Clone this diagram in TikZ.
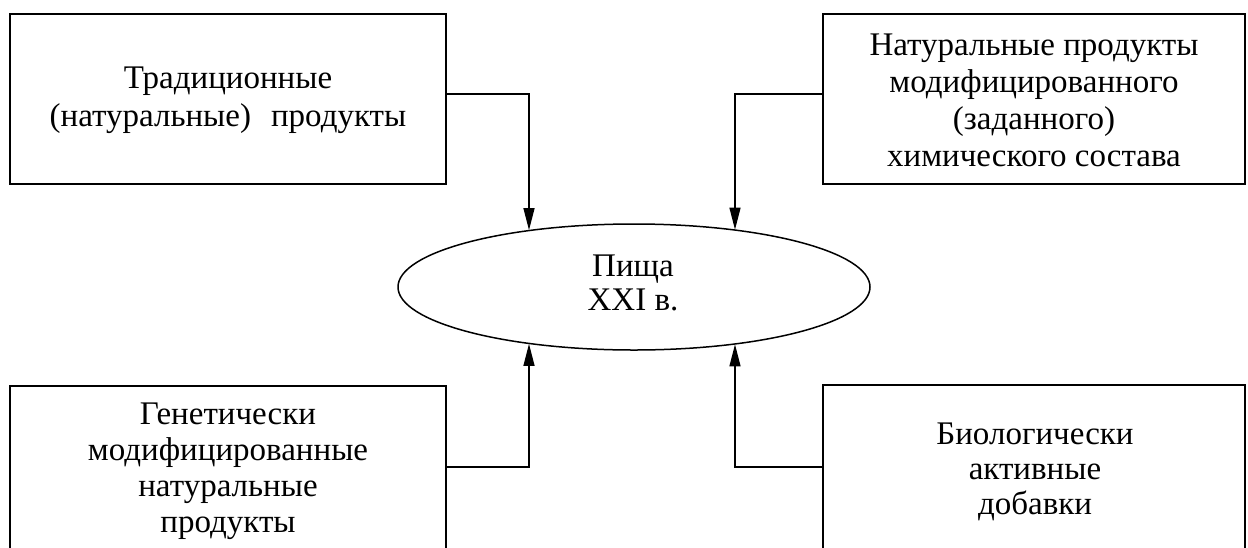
\documentclass[tikz,border=0pt]{standalone}
\usepackage{fontspec}
\setmainfont{Liberation Serif}
\usetikzlibrary{shapes.geometric,arrows.meta}
\tikzset{
  blockbox/.style={draw, line width=1.5pt, minimum height=170pt, inner sep=0pt},
  blocktext/.style={align=center, inner sep=0pt, font=\fontsize{33}{37}\selectfont},
  hub/.style={ellipse, draw, line width=1.5pt, minimum width=472pt, minimum height=126pt, inner sep=0pt},
  feed/.style={line width=1.3pt, -{Triangle[length=22pt,width=11pt]}},
}
\begin{document}
\begin{tikzpicture}[x=1pt,y=-1pt]
\useasboundingbox (0,0) rectangle (1248,547);
\clip (0,0) rectangle (1248,547);

% central ellipse
\node[hub] (ell) at (634,287) {};
\node[blocktext, font=\fontsize{33}{34}\selectfont] (ellt) at (633,283) {Пища\\XXI в.};

% four source blocks
\node[blockbox, minimum width=436pt] (tl) at (228,99) {};
\node[blocktext, font=\fontsize{33}{38}\selectfont] (tlt) at (228,100)
  {Традиционные\\(натуральные)\hspace{20pt}продукты};

\node[blockbox, minimum width=422pt] (tr) at (1034,99) {};
\node[blocktext] (trt) at (1034,100)
  {Натуральные продукты\\модифицированного\\(заданного)\\химического состава};

\node[blockbox, minimum width=436pt] (bl) at (228,471) {};
\node[blocktext, font=\fontsize{33}{36}\selectfont] (blt) at (228,471)
  {Генетически\\модифицированные\\натуральные\\продукты};

\node[blockbox, minimum width=422pt] (br) at (1034,470) {};
\node[blocktext, font=\fontsize{33}{35}\selectfont] (brt) at (1035,472)
  {Биологически\\активные\\добавки};

% connectors into the ellipse
\coordinate (tlbend) at (529,94);
\coordinate (trbend) at (735,94);
\coordinate (blbend) at (529,467);
\coordinate (brbend) at (735,467);

\draw[feed] (tl.east |- tlbend) -- (tlbend) -- (tlbend |- ell.152);
\draw[feed] (tr.west |- trbend) -- (trbend) -- (trbend |- ell.29);
\draw[feed] (bl.east |- blbend) -- (blbend) -- (blbend |- ell.208);
\draw[feed] (br.west |- brbend) -- (brbend) -- (brbend |- ell.331);
\end{tikzpicture}
\end{document}
